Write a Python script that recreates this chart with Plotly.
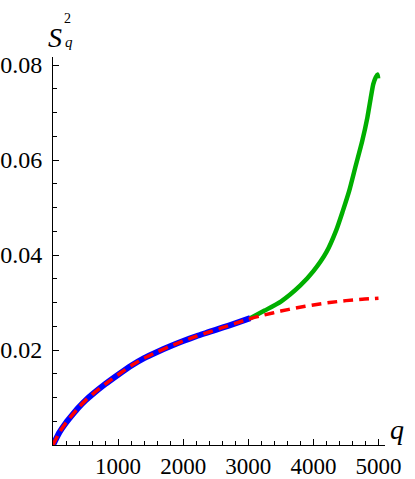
import plotly.graph_objects as go

# fit curve (red dashed)
q_fit = [0, 100, 200, 300, 400, 500, 600, 800, 1000, 1200, 1400, 1600, 1800, 2000, 2200,
         2400, 2600, 2800, 3000, 3250, 3500, 3750, 4000, 4250, 4500, 4750, 5000]
s_fit = [0, 0.0027, 0.0047, 0.0064, 0.0080, 0.0094, 0.0106, 0.0128, 0.0148, 0.0167, 0.0183,
         0.0196, 0.0208, 0.0219, 0.0229, 0.0238, 0.0247, 0.0256, 0.0265, 0.0274, 0.0282,
         0.0289, 0.0295, 0.0300, 0.0304, 0.0307, 0.0309]

# simulation, low q (blue)
q_low = [0, 100, 200, 300, 400, 500, 600, 800, 1000, 1200, 1400, 1600, 1800, 2000, 2200,
         2400, 2600, 2800, 3030]
s_low = [0, 0.0027, 0.0047, 0.0064, 0.0080, 0.0094, 0.0106, 0.0128, 0.0148, 0.0167, 0.0183,
         0.0196, 0.0208, 0.0219, 0.0229, 0.0238, 0.0247, 0.0256, 0.0267]

# simulation, high q (green)
q_high = [3030, 3250, 3500, 3800, 4000, 4200, 4350, 4450, 4550, 4650, 4750, 4830, 4880,
          4920, 4960, 4985, 4995]
s_high = [0.0267, 0.0283, 0.0302, 0.0336, 0.0366, 0.0406, 0.0452, 0.0492, 0.0535, 0.0588,
          0.0640, 0.0690, 0.0730, 0.0760, 0.0775, 0.0780, 0.0772]

x_ticks = [1000, 2000, 3000, 4000, 5000]
x_labels = ['1000', '2000', '3000', '4000', '5000']
y_ticks = [0.02, 0.04, 0.06, 0.08]
y_labels = ['0.02', '0.04', '0.06', '0.08']

font = 'Times New Roman, Liberation Serif, serif'

fig = go.Figure()

fig.add_trace(go.Scatter(x=q_high, y=s_high, mode='lines',
                         line=dict(color='rgb(0,175,0)', width=4.5, shape='spline',
                                   smoothing=0.6),
                         cliponaxis=False))
fig.add_trace(go.Scatter(x=q_low, y=s_low, mode='lines',
                         line=dict(color='rgb(0,0,255)', width=6, shape='spline',
                                   smoothing=0.6)))
fig.add_trace(go.Scatter(x=q_fit, y=s_fit, mode='lines',
                         line=dict(color='rgb(255,0,0)', width=3.5, dash='10px,6px',
                                   shape='spline', smoothing=0.6)))

axis_common = dict(showgrid=False, zeroline=False, showline=True, linecolor='black',
                   linewidth=1, ticks='inside', ticklen=6, tickcolor='black', tickwidth=1,
                   automargin=False)

fig.update_xaxes(range=[0, 5100], tickvals=x_ticks, ticktext=x_labels,
                 tickfont=dict(family=font, size=23, color='black'),
                 minor=dict(dtick=200, tick0=0, ticks='inside', ticklen=4,
                            tickcolor='black', showgrid=False),
                 **axis_common)
fig.update_yaxes(range=[0, 0.0817], tickvals=y_ticks, ticktext=y_labels,
                 tickfont=dict(family=font, size=24, color='black'),
                 ticklabelstandoff=5,
                 minor=dict(dtick=0.005, tick0=0, ticks='inside', ticklen=4,
                            tickcolor='black', showgrid=False),
                 **axis_common)

# axis labels
fig.add_annotation(text='<i>S</i>', xref='paper', yref='paper', x=-0.017, y=1.093,
                   showarrow=False, borderpad=0,
                   font=dict(family=font, size=28, color='black'))
fig.add_annotation(text='2', xref='paper', yref='paper', x=0.03, y=1.122,
                   showarrow=False, borderpad=0,
                   font=dict(family=font, size=14, color='black'))
fig.add_annotation(text='<i>q</i>', xref='paper', yref='paper', x=0.033, y=1.062,
                   showarrow=False, borderpad=0,
                   font=dict(family=font, size=15, color='black'))
fig.add_annotation(text='<i>q</i>', xref='paper', yref='paper', x=1.063, y=-0.005,
                   showarrow=False, font=dict(family=font, size=28, color='black'))

fig.update_layout(
    width=415, height=479,
    margin=dict(l=53, r=30, t=57, b=34),
    showlegend=False,
    plot_bgcolor='white', paper_bgcolor='white',
)

# drop the page's default body margin so the figure sits at the window corner
fig.write_html('out.html', config={'displayModeBar': False},
               post_script="document.body.style.margin='0';")
